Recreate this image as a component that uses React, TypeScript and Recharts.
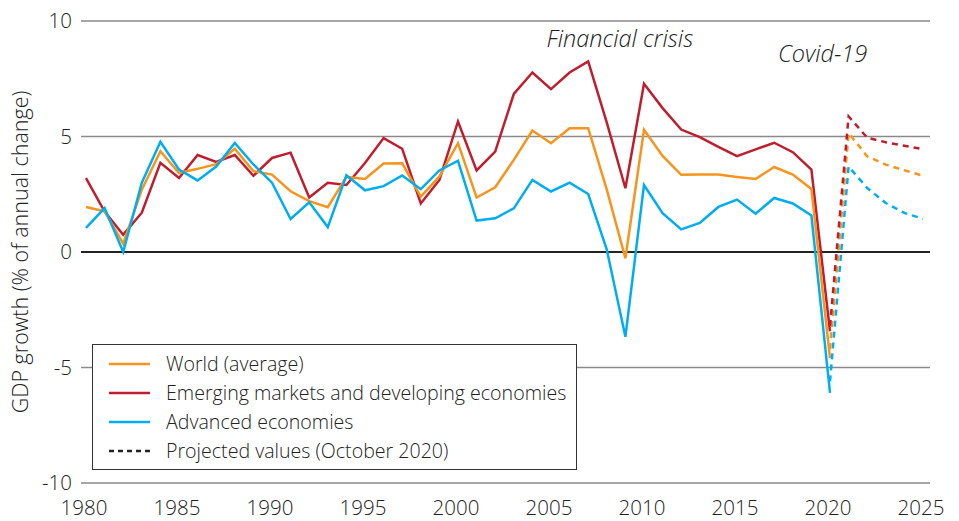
import { LineChart, Line, XAxis, YAxis, CartesianGrid, ReferenceLine, ReferenceDot, Legend } from 'recharts'

// observed growth, 1980-2020
const actualYears = Array.from({ length: 41 }, (_, i) => 1980 + i)
const worldActual = [
  1.95, 1.76, 0.36, 2.7, 4.36, 3.42, 3.6, 3.8, 4.47, 3.5,
  3.35, 2.63, 2.2, 1.94, 3.25, 3.16, 3.83, 3.84, 2.4, 3.27,
  4.71, 2.36, 2.8, 3.99, 5.26, 4.71, 5.36, 5.36, 2.7, -0.27,
  5.29, 4.16, 3.34, 3.35, 3.35, 3.25, 3.16, 3.68, 3.35, 2.73,
  -4.59,
]
const emdeActual = [
  3.2, 1.75, 0.75, 1.7, 3.86, 3.2, 4.2, 3.9, 4.2, 3.3,
  4.07, 4.3, 2.36, 3.0, 2.9, 3.85, 4.93, 4.47, 2.1, 3.12,
  5.65, 3.53, 4.35, 6.84, 7.77, 7.05, 7.77, 8.25, 5.6, 2.76,
  7.28, 6.23, 5.3, 4.97, 4.55, 4.15, 4.44, 4.73, 4.32, 3.57,
  -3.43,
]
const advancedActual = [
  1.04, 1.9, 0.0, 3.0, 4.77, 3.57, 3.1, 3.7, 4.72, 3.79,
  3.0, 1.43, 2.15, 1.08, 3.32, 2.67, 2.85, 3.31, 2.72, 3.53,
  3.95, 1.36, 1.46, 1.89, 3.12, 2.62, 3.0, 2.51, 0.1, -3.67,
  2.9, 1.68, 0.98, 1.26, 1.95, 2.27, 1.66, 2.34, 2.1, 1.58,
  -6.1,
]

// October 2020 projections
const projYears = [2020, 2021, 2022, 2023, 2024, 2025]
const worldProj = [-4.2, 5.15, 4.14, 3.78, 3.54, 3.3]
const emdeProj = [-3.2, 5.87, 4.95, 4.75, 4.6, 4.45]
const advancedProj = [-5.6, 3.7, 2.77, 2.12, 1.69, 1.44]

const xTicks = [1980, 1985, 1990, 1995, 2000, 2005, 2010, 2015, 2020, 2025]
const yTicks = [-10, -5, 0, 5, 10]

const ORANGE = '#F7941D'
const RED = '#BE1E2D'
const BLUE = '#00AEEF'
const TEXT = '#222222'

const rows = Array.from({ length: 46 }, (_, i) => {
  const year = 1980 + i
  const a = actualYears.indexOf(year)
  const p = projYears.indexOf(year)
  return {
    year,
    world: a >= 0 ? worldActual[a] : null,
    emde: a >= 0 ? emdeActual[a] : null,
    advanced: a >= 0 ? advancedActual[a] : null,
    worldP: p >= 0 ? worldProj[p] : null,
    emdeP: p >= 0 ? emdeProj[p] : null,
    advancedP: p >= 0 ? advancedProj[p] : null,
  }
})

const legendItems = [
  { label: 'World (average)', color: ORANGE, dash: undefined },
  { label: 'Emerging markets and developing economies', color: RED, dash: undefined },
  { label: 'Advanced economies', color: BLUE, dash: undefined },
  { label: 'Projected values (October 2020)', color: '#222', dash: '5 4' },
]

function LegendBox() {
  return (
    <div
      style={{
        width: 485,
        height: 126,
        boxSizing: 'border-box',
        border: '1px solid #333',
        background: '#fff',
        paddingTop: 4,
      }}
    >
      {legendItems.map((it) => (
        <div key={it.label} style={{ display: 'flex', alignItems: 'center', height: 29 }}>
          <svg width={73} height={10} style={{ flex: 'none' }}>
            <line x1={16} x2={57} y1={5} y2={5} stroke={it.color} strokeWidth={2.5} strokeDasharray={it.dash} />
          </svg>
          <span style={{ fontSize: 19.6, color: TEXT, whiteSpace: 'nowrap' }}>{it.label}</span>
        </div>
      ))}
    </div>
  )
}

const note = (text: string) => (p: any) => (
  <text x={p.cx} y={p.cy} textAnchor="middle" dominantBaseline="central" fontSize={23.5} fontStyle="italic" fill={TEXT}>
    {text}
  </text>
)

export default function App() {
  return (
    <div style={{ position: 'absolute', left: 0, top: 0, fontFamily: '"Open Sans", sans-serif', fontWeight: 300 }}>
      <LineChart width={959} height={521} data={rows} margin={{ top: 21, right: 29, bottom: 0, left: 0 }}>
        <CartesianGrid vertical={false} stroke="#8a8a8a" strokeWidth={1.5} />
        <XAxis
          dataKey="year"
          type="number"
          domain={[1980, 2025]}
          ticks={xTicks}
          interval={0}
          padding={{ left: 5, right: 7 }}
          axisLine={false}
          tickLine={false}
          tickSize={0}
          tickMargin={17}
          height={38}
          tick={{ fontSize: 20.5, fill: TEXT, dx: -2 }}
        />
        <YAxis
          domain={[-10, 10]}
          ticks={yTicks}
          interval={0}
          width={81}
          axisLine={false}
          tickLine={false}
          tickSize={0}
          tickMargin={9}
          tick={{ fontSize: 20.5, fill: TEXT }}
          label={{
            value: 'GDP growth (% of annual change)',
            angle: -90,
            position: 'insideLeft',
            offset: 20,
            style: { textAnchor: 'middle', fontSize: 21.5, fill: TEXT },
          }}
        />
        <ReferenceLine y={0} stroke="#222" strokeWidth={2} />
        <Line dataKey="emde" stroke={RED} strokeWidth={2.5} dot={false} isAnimationActive={false} />
        <Line dataKey="world" stroke={ORANGE} strokeWidth={2.5} dot={false} isAnimationActive={false} />
        <Line dataKey="advanced" stroke={BLUE} strokeWidth={2.5} dot={false} isAnimationActive={false} />
        <Line dataKey="advancedP" stroke={BLUE} strokeWidth={2.5} strokeDasharray="6 5" dot={false} isAnimationActive={false} />
        <Line dataKey="worldP" stroke={ORANGE} strokeWidth={2.5} strokeDasharray="6 5" dot={false} isAnimationActive={false} />
        <Line dataKey="emdeP" stroke={RED} strokeWidth={2.5} strokeDasharray="6 5" dot={false} isAnimationActive={false} />
        <ReferenceDot x={2008.7} y={9.28} r={0} shape={note('Financial crisis')} />
        <ReferenceDot x={2019.6} y={8.6} r={0} shape={note('Covid-19')} />
        <Legend
          layout="vertical"
          align="center"
          verticalAlign="middle"
          content={() => <LegendBox />}
          wrapperStyle={{ left: 92, top: 344, width: 485, height: 126 }}
        />
      </LineChart>
    </div>
  )
}
